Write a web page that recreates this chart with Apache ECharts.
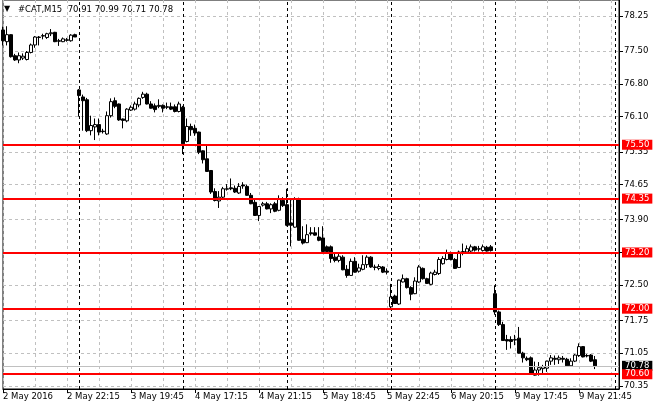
<!DOCTYPE html>
<html>
<head>
<meta charset="utf-8">
<script src="https://cdn.jsdelivr.net/npm/echarts@6/dist/echarts.min.js"></script>
<style>
  html, body { margin: 0; padding: 0; background: #fff; }
  #chart { width: 660px; height: 410px; }
</style>
</head>
<body>
<div id="chart"></div>
<script>
// trading sessions (M15 bars)
var days = ['2 May', '3 May', '4 May', '5 May', '6 May', '9 May'];
var firstBar = ['18:15', '16:30', '16:30', '16:30', '16:30', '16:30'];
var barsPerDay = [19, 26, 26, 26, 26, 26];
// empty slots right of the last bar (chart shift)
var futureSlots = ['9 May 23:00', '9 May 23:15', '9 May 23:30', '9 May 23:45', '10 May 00:00', '10 May 00:15'];
var separators = ['3 May 16:30', '4 May 16:30', '5 May 16:30', '6 May 16:30', '9 May 16:30', '10 May 00:00'];

var opens = [
  77.95, 77.70, 77.85, 77.40, 77.31, 77.35, 77.32, 77.47, 77.63, 77.79, 77.82, 77.79, 77.87, 77.90, 77.72, 77.70, 77.74, 77.72, 77.85,
  76.67, 76.52, 76.46, 75.80, 75.88, 75.93, 75.79, 75.73, 76.12, 76.44, 76.37, 76.05, 76.01, 76.24, 76.26, 76.35, 76.51, 76.58, 76.37, 76.33, 76.34, 76.34, 76.31, 76.31, 76.31, 76.21,
  76.30, 75.57, 75.89, 75.85, 75.77, 75.37, 75.20, 74.95, 74.50, 74.30, 74.38, 74.55, 74.58, 74.57, 74.47, 74.64, 74.61, 74.42, 74.27, 73.99, 74.21, 74.24, 74.13, 74.24, 74.10, 74.31,
  74.22, 73.83, 73.74, 74.35, 73.48, 73.41, 73.62, 73.62, 73.53, 73.51, 73.32, 73.32, 73.10, 73.03, 73.10, 72.84, 72.71, 73.01, 72.80, 72.84, 72.94, 73.10, 72.89, 72.86, 72.89, 72.80,
  72.04, 72.27, 72.10, 72.57, 72.64, 72.45, 72.32, 72.57, 72.86, 72.64, 72.52, 72.73, 72.75, 72.96, 73.05, 73.19, 73.05, 72.88, 73.19, 73.21, 73.23, 73.32, 73.27, 73.24, 73.31, 73.32,
  72.32, 71.93, 71.66, 71.34, 71.34, 71.33, 71.37, 71.05, 70.94, 70.95, 70.58, 70.69, 70.72, 70.73, 70.88, 70.94, 70.91, 70.94, 70.92, 70.78, 70.88, 71.00, 71.19, 71.00, 71.01, 70.91
];
var highs = [
  78.02, 78.03, 77.86, 77.44, 77.47, 77.45, 77.50, 77.66, 77.82, 77.82, 77.87, 77.89, 77.97, 77.91, 77.76, 77.79, 77.78, 77.86, 77.87,
  76.69, 76.57, 76.50, 76.12, 76.06, 76.06, 75.84, 76.21, 76.49, 76.51, 76.38, 76.06, 76.28, 76.34, 76.42, 76.51, 76.63, 76.61, 76.43, 76.38, 76.47, 76.36, 76.40, 76.40, 76.36, 76.42,
  76.33, 76.06, 75.95, 75.93, 75.78, 75.38, 75.48, 74.96, 74.57, 74.51, 74.60, 74.66, 74.78, 74.63, 74.68, 74.70, 74.65, 74.47, 74.34, 74.19, 74.28, 74.28, 74.25, 74.28, 74.42, 74.38,
  74.56, 74.35, 74.38, 74.37, 73.76, 73.80, 73.74, 73.74, 73.74, 73.76, 73.35, 73.35, 73.17, 73.17, 73.14, 72.93, 73.07, 73.10, 72.96, 73.14, 73.14, 73.12, 72.94, 72.95, 72.91, 72.86,
  72.53, 72.30, 72.62, 72.73, 72.66, 72.48, 72.67, 72.93, 72.88, 72.66, 72.79, 72.83, 73.10, 73.12, 73.26, 73.22, 73.08, 73.24, 73.39, 73.35, 73.37, 73.34, 73.34, 73.37, 73.34, 73.36,
  72.50, 71.96, 71.72, 71.44, 71.41, 71.44, 71.61, 71.08, 70.98, 70.98, 70.87, 70.86, 70.80, 70.89, 71.01, 71.00, 71.00, 70.99, 70.95, 70.94, 71.03, 71.26, 71.20, 71.03, 71.03, 70.99
];
var lows = [
  77.62, 77.62, 77.36, 77.29, 77.24, 77.31, 77.30, 77.45, 77.57, 77.62, 77.75, 77.76, 77.82, 77.69, 77.61, 77.69, 77.70, 77.70, 77.80,
  76.10, 75.80, 75.77, 75.70, 75.60, 75.70, 75.74, 75.71, 76.08, 76.28, 76.01, 75.85, 75.98, 76.22, 76.23, 76.30, 76.48, 76.36, 76.27, 76.19, 76.28, 76.19, 76.26, 76.24, 76.19, 76.19,
  75.30, 75.55, 75.69, 75.69, 75.30, 75.10, 74.92, 74.45, 74.29, 74.15, 74.35, 74.52, 74.53, 74.47, 74.45, 74.56, 74.41, 74.23, 73.98, 73.87, 74.18, 74.12, 74.04, 74.06, 74.08, 74.17,
  73.76, 73.33, 73.73, 73.45, 73.37, 73.40, 73.56, 73.56, 73.44, 73.21, 73.20, 72.98, 72.99, 72.99, 72.82, 72.66, 72.70, 72.77, 72.77, 72.82, 72.87, 72.87, 72.82, 72.82, 72.76, 72.73,
  71.97, 72.10, 72.08, 72.56, 72.43, 72.18, 72.31, 72.55, 72.62, 72.53, 72.50, 72.71, 72.72, 72.94, 73.03, 73.03, 72.85, 72.87, 73.14, 73.17, 73.17, 73.22, 73.22, 73.22, 73.22, 73.22,
  71.87, 71.63, 71.31, 71.12, 71.15, 71.22, 71.04, 70.85, 70.88, 70.61, 70.57, 70.57, 70.62, 70.65, 70.80, 70.80, 70.82, 70.85, 70.76, 70.76, 70.86, 70.97, 70.96, 70.96, 70.86, 70.71
];
var closes = [
  77.72, 77.85, 77.38, 77.31, 77.40, 77.39, 77.47, 77.63, 77.80, 77.80, 77.83, 77.87, 77.89, 77.70, 77.71, 77.76, 77.73, 77.84, 77.80,
  76.55, 76.44, 75.80, 75.91, 75.93, 75.77, 75.78, 76.12, 76.42, 76.32, 76.03, 76.02, 76.26, 76.30, 76.37, 76.49, 76.58, 76.37, 76.28, 76.25, 76.32, 76.28, 76.30, 76.26, 76.21, 76.37,
  75.52, 75.89, 75.82, 75.75, 75.34, 75.18, 74.93, 74.49, 74.31, 74.38, 74.56, 74.56, 74.56, 74.49, 74.61, 74.62, 74.42, 74.24, 73.99, 74.18, 74.24, 74.13, 74.22, 74.08, 74.33, 74.20,
  73.78, 73.78, 74.35, 73.46, 73.40, 73.58, 73.60, 73.57, 73.46, 73.22, 73.22, 73.07, 73.03, 73.12, 72.83, 72.71, 73.01, 72.78, 72.87, 72.94, 73.10, 72.89, 72.88, 72.90, 72.78, 72.78,
  72.25, 72.11, 72.61, 72.64, 72.45, 72.31, 72.59, 72.89, 72.64, 72.54, 72.76, 72.78, 73.05, 73.07, 73.19, 73.05, 72.86, 73.21, 73.22, 73.28, 73.32, 73.25, 73.28, 73.32, 73.23, 73.24,
  71.93, 71.66, 71.32, 71.31, 71.30, 71.34, 71.05, 70.95, 70.91, 70.62, 70.69, 70.74, 70.76, 70.88, 70.95, 70.92, 70.95, 70.92, 70.78, 70.88, 71.01, 71.19, 70.97, 70.99, 70.88, 70.78
];

var levels = [75.50, 74.35, 73.20, 72.00, 70.60];
var yTicks = [70.35, 71.05, 71.75, 72.50, 73.20, 73.90, 74.65, 75.35, 76.10, 76.80, 77.50, 78.25];

var FONT = 'DejaVu Sans';

function pad(n) { return (n < 10 ? '0' : '') + n; }

// category labels: one per bar, then the empty future slots
var times = [];
days.forEach(function (d, k) {
  var hm = firstBar[k].split(':');
  var m = +hm[0] * 60 + +hm[1];
  for (var j = 0; j < barsPerDay[k]; j++) {
    times.push(d + ' ' + pad(Math.floor(m / 60)) + ':' + pad(m % 60));
    m += 15;
  }
});
times = times.concat(futureSlots);

var ohlc = opens.map(function (o, i) { return [o, closes[i], lows[i], highs[i]]; });
var last = opens.length - 1;
var header = '#CAT,M15  ' + [opens[last], highs[last], lows[last], closes[last]].map(function (v) { return v.toFixed(2); }).join(' ');

var marks = [];
separators.forEach(function (s) {
  marks.push({ xAxis: s, lineStyle: { color: '#000', width: 1, type: [3, 3] }, label: { show: false } });
});
marks.push({
  yAxis: closes[last],
  lineStyle: { color: '#c0c0c0', width: 1, type: 'solid' },
  label: { show: true, position: 'end', distance: 3, formatter: closes[last].toFixed(2), backgroundColor: '#000', color: '#fff',
           fontFamily: FONT, fontSize: 8.5, padding: [1, 3, 0, 3], lineHeight: 9 }
});
levels.forEach(function (v) {
  marks.push({
    yAxis: v,
    lineStyle: { color: '#ff0000', width: 2, type: 'solid' },
    label: { show: true, position: 'end', distance: 3, formatter: v.toFixed(2), backgroundColor: '#ff0000', color: '#fff',
             fontFamily: FONT, fontSize: 8.5, padding: [1, 3, 0, 3], lineHeight: 9 }
  });
});

var every16 = function (i) { return i % 16 === 0; };
var every8 = function (i) { return i % 8 === 0; };

var myChart = echarts.init(document.getElementById('chart'));
var option = {
  backgroundColor: '#fff',
  animation: false,
  grid: {
    left: 3,
    right: 41,
    top: -1,
    bottom: 21,
    show: true,
    borderColor: '#000',
    borderWidth: 1
  },
  graphic: [
    { type: 'text', left: 4, top: 5, style: { text: '▼', font: '8px "DejaVu Sans"', fill: '#000' } },
    { type: 'text', left: 18, top: 5, style: { text: header, font: '8.5px "DejaVu Sans"', fill: '#000' } }
  ],
  xAxis: {
    type: 'category',
    data: times,
    boundaryGap: false,
    axisLine: { lineStyle: { color: '#000' } },
    axisTick: { interval: every16, length: 4, lineStyle: { color: '#000' } },
    axisLabel: {
      interval: every16,
      align: 'left',
      margin: 3,
      color: '#000',
      fontFamily: FONT,
      fontSize: 8.5,
      formatter: function (v, i) { return i === 0 ? '2 May 2016' : v; }
    },
    splitLine: { show: true, interval: every8, lineStyle: { color: '#c0c0c0', type: [3, 3] } }
  },
  yAxis: {
    type: 'value',
    position: 'right',
    min: 70.285,
    max: 78.59,
    axisLine: { show: true, lineStyle: { color: '#000' } },
    axisTick: { show: true, length: 4, customValues: yTicks, lineStyle: { color: '#000' } },
    axisLabel: {
      customValues: yTicks,
      margin: 5,
      color: '#000',
      fontFamily: FONT,
      fontSize: 8.5,
      formatter: function (v) { return v.toFixed(2); }
    },
    splitLine: { show: true, lineStyle: { color: '#c0c0c0', type: [3, 3] } }
  },
  series: [{
    type: 'candlestick',
    data: ohlc,
    barWidth: 3,
    itemStyle: {
      color: '#fff',
      color0: '#000',
      borderColor: '#000',
      borderColor0: '#000',
      borderWidth: 1
    },
    markLine: {
      symbol: 'none',
      silent: true,
      animation: false,
      data: marks
    }
  }]
};
myChart.setOption(option);
</script>
</body>
</html>
